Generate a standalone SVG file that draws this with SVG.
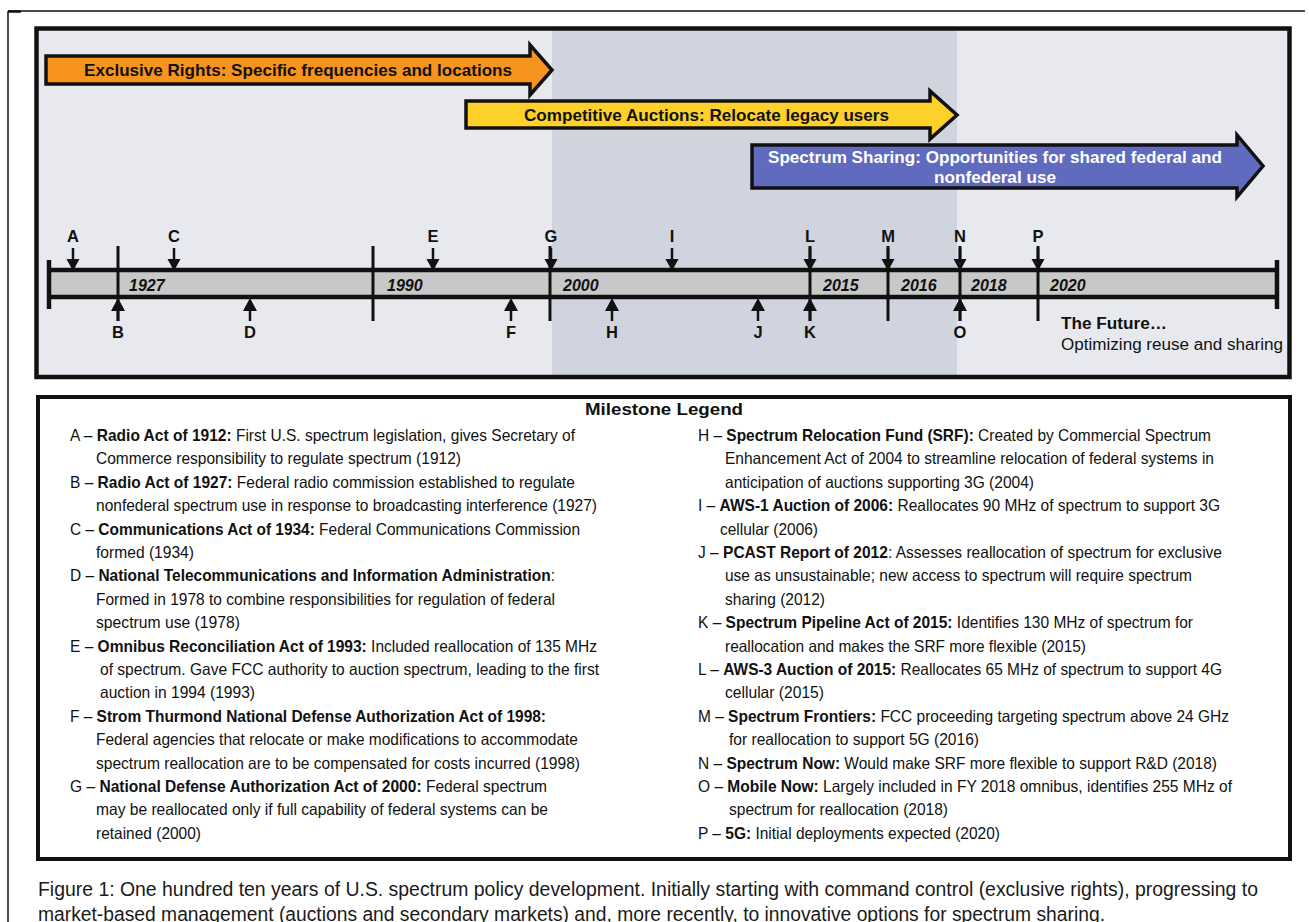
<svg xmlns="http://www.w3.org/2000/svg" width="1309" height="922" viewBox="0 0 1309 922">
<style>
text{font-family:"Liberation Sans",Arial,sans-serif;fill:#111}
.lg{font-size:16.5px}
.b{font-weight:bold}
.lab{font-size:16.5px;font-weight:bold;text-anchor:middle}
.yr{font-size:16px;font-weight:bold;font-style:italic}
.arrtxt{font-size:16.5px;font-weight:bold}
.div{stroke:#111;stroke-width:3}
.shaft{stroke:#111;stroke-width:2.5}
.head{fill:#111}
</style>
<rect width="1309" height="922" fill="#ffffff"/>
<g id="frame">
<line x1="8" y1="11" x2="1305" y2="11" stroke="#111" stroke-width="1.5"/>
<line x1="8" y1="11.5" x2="21" y2="11.5" stroke="#111" stroke-width="2.5"/>
<line x1="8" y1="11" x2="8" y2="922" stroke="#111" stroke-width="1.5"/>
</g>
<g id="timeline-panel">
<rect x="36.5" y="28.5" width="1253" height="348.5" fill="#e8e9ef"/>
<rect x="552" y="30" width="405" height="346" fill="#cfd4df"/>
<rect x="36.5" y="28.5" width="1253" height="348.5" fill="none" stroke="#111" stroke-width="4.5"/>
</g>
<g id="arrow-exclusive">
<polygon points="46,56 530,56 530,45 552,70 530,95 530,84 46,84" fill="#f7941e" stroke="#111" stroke-width="3.5" stroke-linejoin="miter"/>
<text class="arrtxt" x="84" y="76" textLength="428" lengthAdjust="spacingAndGlyphs">Exclusive Rights: Specific frequencies and locations</text>
</g>
<g id="arrow-auctions">
<polygon points="466,101 930,101 930,91 957,115 930,139 930,128 466,128" fill="#fed12a" stroke="#111" stroke-width="3.5"/>
<text class="arrtxt" x="524" y="121" textLength="365" lengthAdjust="spacingAndGlyphs">Competitive Auctions: Relocate legacy users</text>
</g>
<g id="arrow-sharing">
<polygon points="752,145 1237,145 1237,135 1263,166 1237,197 1237,188 752,188" fill="#606bbf" stroke="#111" stroke-width="3.5"/>
<text class="arrtxt" x="768" y="162.5" textLength="454" lengthAdjust="spacingAndGlyphs" style="fill:#ffffff">Spectrum Sharing: Opportunities for shared federal and</text>
<text class="arrtxt" x="934" y="182.5" textLength="122" lengthAdjust="spacingAndGlyphs" style="fill:#ffffff">nonfederal use</text>
</g>
<g id="timeline-bar">
<rect x="49" y="270" width="1228" height="27" fill="#c8c8c8"/>
<line x1="49" y1="270" x2="1277" y2="270" stroke="#111" stroke-width="4.5"/>
<line x1="49" y1="297" x2="1277" y2="297" stroke="#111" stroke-width="4.5"/>
<line x1="49" y1="260" x2="49" y2="309" stroke="#111" stroke-width="4.5"/>
<line x1="1277" y1="260" x2="1277" y2="309" stroke="#111" stroke-width="4.5"/>
<text class="yr" x="129" y="291">1927</text>
<text class="yr" x="387" y="291">1990</text>
<text class="yr" x="563" y="291">2000</text>
<text class="yr" x="823" y="291">2015</text>
<text class="yr" x="901" y="291">2016</text>
<text class="yr" x="971" y="291">2018</text>
<text class="yr" x="1050" y="291">2020</text>
</g>
<g id="connectors">
<line class="div" x1="118" y1="246" x2="118" y2="321"/>
<line class="div" x1="373" y1="246" x2="373" y2="321"/>
<line class="div" x1="550" y1="246" x2="550" y2="321"/>
<line class="div" x1="810" y1="246" x2="810" y2="321"/>
<line class="div" x1="888" y1="246" x2="888" y2="321"/>
<line class="div" x1="960" y1="246" x2="960" y2="321"/>
<line class="div" x1="1038" y1="246" x2="1038" y2="321"/>
</g>
<g id="milestones-top">
<g id="m-A"><line class="shaft" x1="73" y1="248" x2="73" y2="260"/><polygon class="head" points="66.5,259 79.5,259 73,271"/><text class="lab" x="73" y="242">A</text></g>
<g id="m-C"><line class="shaft" x1="174" y1="248" x2="174" y2="260"/><polygon class="head" points="167.5,259 180.5,259 174,271"/><text class="lab" x="174" y="242">C</text></g>
<g id="m-E"><line class="shaft" x1="433" y1="248" x2="433" y2="260"/><polygon class="head" points="426.5,259 439.5,259 433,271"/><text class="lab" x="433" y="242">E</text></g>
<g id="m-G"><line class="shaft" x1="551" y1="248" x2="551" y2="260"/><polygon class="head" points="544.5,259 557.5,259 551,271"/><text class="lab" x="551" y="242">G</text></g>
<g id="m-I"><line class="shaft" x1="672" y1="248" x2="672" y2="260"/><polygon class="head" points="665.5,259 678.5,259 672,271"/><text class="lab" x="672" y="242">I</text></g>
<g id="m-L"><line class="shaft" x1="810" y1="248" x2="810" y2="260"/><polygon class="head" points="803.5,259 816.5,259 810,271"/><text class="lab" x="810" y="242">L</text></g>
<g id="m-M"><line class="shaft" x1="888" y1="248" x2="888" y2="260"/><polygon class="head" points="881.5,259 894.5,259 888,271"/><text class="lab" x="888" y="242">M</text></g>
<g id="m-N"><line class="shaft" x1="960" y1="248" x2="960" y2="260"/><polygon class="head" points="953.5,259 966.5,259 960,271"/><text class="lab" x="960" y="242">N</text></g>
<g id="m-P"><line class="shaft" x1="1038" y1="248" x2="1038" y2="260"/><polygon class="head" points="1031.5,259 1044.5,259 1038,271"/><text class="lab" x="1038" y="242">P</text></g>
</g>
<g id="milestones-bottom">
<g id="m-B"><line class="shaft" x1="118" y1="309" x2="118" y2="321"/><polygon class="head" points="111,311 125,311 118,298"/><text class="lab" x="118" y="338">B</text></g>
<g id="m-D"><line class="shaft" x1="250" y1="309" x2="250" y2="321"/><polygon class="head" points="243,311 257,311 250,298"/><text class="lab" x="250" y="338">D</text></g>
<g id="m-F"><line class="shaft" x1="511" y1="309" x2="511" y2="321"/><polygon class="head" points="504,311 518,311 511,298"/><text class="lab" x="511" y="338">F</text></g>
<g id="m-H"><line class="shaft" x1="612" y1="309" x2="612" y2="321"/><polygon class="head" points="605,311 619,311 612,298"/><text class="lab" x="612" y="338">H</text></g>
<g id="m-J"><line class="shaft" x1="758" y1="309" x2="758" y2="321"/><polygon class="head" points="751,311 765,311 758,298"/><text class="lab" x="758" y="338">J</text></g>
<g id="m-K"><line class="shaft" x1="810" y1="309" x2="810" y2="321"/><polygon class="head" points="803,311 817,311 810,298"/><text class="lab" x="810" y="338">K</text></g>
<g id="m-O"><line class="shaft" x1="960" y1="309" x2="960" y2="321"/><polygon class="head" points="953,311 967,311 960,298"/><text class="lab" x="960" y="338">O</text></g>
</g>
<g id="future">
<text x="1061" y="329" class="b" style="font-size:16px" textLength="106" lengthAdjust="spacingAndGlyphs">The Future…</text>
<text x="1061" y="350" style="font-size:16px" textLength="222" lengthAdjust="spacingAndGlyphs">Optimizing reuse and sharing</text>
</g>
<g id="legend">
<rect x="38" y="397" width="1252" height="462" fill="#ffffff" stroke="#111" stroke-width="4"/>
<text x="664" y="415" class="b" style="font-size:17px;text-anchor:middle" textLength="158" lengthAdjust="spacingAndGlyphs">Milestone Legend</text>
<g class="lg">
<text x="70" y="441" textLength="505" lengthAdjust="spacingAndGlyphs">A – <tspan class="b">Radio Act of 1912:</tspan> First U.S. spectrum legislation, gives Secretary of</text>
<text x="96" y="464.4" textLength="365" lengthAdjust="spacingAndGlyphs">Commerce responsibility to regulate spectrum (1912)</text>
<text x="70" y="487.8" textLength="505" lengthAdjust="spacingAndGlyphs">B – <tspan class="b">Radio Act of 1927:</tspan> Federal radio commission established to regulate</text>
<text x="96" y="511.2" textLength="501" lengthAdjust="spacingAndGlyphs">nonfederal spectrum use in response to broadcasting interference (1927)</text>
<text x="70" y="534.6" textLength="510" lengthAdjust="spacingAndGlyphs">C – <tspan class="b">Communications Act of 1934:</tspan> Federal Communications Commission</text>
<text x="96" y="558" textLength="98" lengthAdjust="spacingAndGlyphs">formed (1934)</text>
<text x="70" y="581.4" textLength="485" lengthAdjust="spacingAndGlyphs">D – <tspan class="b">National Telecommunications and Information Administration</tspan>:</text>
<text x="96" y="604.8" textLength="459" lengthAdjust="spacingAndGlyphs">Formed in 1978 to combine responsibilities for regulation of federal</text>
<text x="96" y="628.2" textLength="144" lengthAdjust="spacingAndGlyphs">spectrum use (1978)</text>
<text x="70" y="651.6" textLength="527" lengthAdjust="spacingAndGlyphs">E – <tspan class="b">Omnibus Reconciliation Act of 1993:</tspan> Included reallocation of 135 MHz</text>
<text x="100" y="675" textLength="499" lengthAdjust="spacingAndGlyphs">of spectrum. Gave FCC authority to auction spectrum, leading to the first</text>
<text x="100" y="698.4" textLength="155" lengthAdjust="spacingAndGlyphs">auction in 1994 (1993)</text>
<text x="70" y="721.8" textLength="476" lengthAdjust="spacingAndGlyphs">F – <tspan class="b">Strom Thurmond National Defense Authorization Act of 1998:</tspan></text>
<text x="96" y="745.2" textLength="482" lengthAdjust="spacingAndGlyphs">Federal agencies that relocate or make modifications to accommodate</text>
<text x="96" y="768.6" textLength="484" lengthAdjust="spacingAndGlyphs">spectrum reallocation are to be compensated for costs incurred (1998)</text>
<text x="70" y="792" textLength="477" lengthAdjust="spacingAndGlyphs">G – <tspan class="b">National Defense Authorization Act of 2000:</tspan> Federal spectrum</text>
<text x="96" y="815.4" textLength="452" lengthAdjust="spacingAndGlyphs">may be reallocated only if full capability of federal systems can be</text>
<text x="96" y="838.8" textLength="105" lengthAdjust="spacingAndGlyphs">retained (2000)</text>

<text x="698" y="441" textLength="513" lengthAdjust="spacingAndGlyphs">H – <tspan class="b">Spectrum Relocation Fund (SRF):</tspan> Created by Commercial Spectrum</text>
<text x="725" y="464.4" textLength="489" lengthAdjust="spacingAndGlyphs">Enhancement Act of 2004 to streamline relocation of federal systems in</text>
<text x="725" y="487.8" textLength="309" lengthAdjust="spacingAndGlyphs">anticipation of auctions supporting 3G (2004)</text>
<text x="698" y="511.2" textLength="522" lengthAdjust="spacingAndGlyphs">I – <tspan class="b">AWS-1 Auction of 2006:</tspan> Reallocates 90 MHz of spectrum to support 3G</text>
<text x="720" y="534.6" textLength="98" lengthAdjust="spacingAndGlyphs">cellular (2006)</text>
<text x="698" y="558" textLength="524" lengthAdjust="spacingAndGlyphs">J – <tspan class="b">PCAST Report of 2012</tspan>: Assesses reallocation of spectrum for exclusive</text>
<text x="725" y="581.4" textLength="467" lengthAdjust="spacingAndGlyphs">use as unsustainable; new access to spectrum will require spectrum</text>
<text x="725" y="604.8" textLength="100" lengthAdjust="spacingAndGlyphs">sharing (2012)</text>
<text x="698" y="628.2" textLength="495" lengthAdjust="spacingAndGlyphs">K – <tspan class="b">Spectrum Pipeline Act of 2015:</tspan> Identifies 130 MHz of spectrum for</text>
<text x="725" y="651.6" textLength="361" lengthAdjust="spacingAndGlyphs">reallocation and makes the SRF more flexible (2015)</text>
<text x="698" y="675" textLength="524" lengthAdjust="spacingAndGlyphs">L – <tspan class="b">AWS-3 Auction of 2015:</tspan> Reallocates 65 MHz of spectrum to support 4G</text>
<text x="725" y="698.4" textLength="99" lengthAdjust="spacingAndGlyphs">cellular (2015)</text>
<text x="698" y="721.8" textLength="531" lengthAdjust="spacingAndGlyphs">M – <tspan class="b">Spectrum Frontiers:</tspan> FCC proceeding targeting spectrum above 24 GHz</text>
<text x="729" y="745.2" textLength="250" lengthAdjust="spacingAndGlyphs">for reallocation to support 5G (2016)</text>
<text x="698" y="768.6" textLength="519" lengthAdjust="spacingAndGlyphs">N – <tspan class="b">Spectrum Now:</tspan> Would make SRF more flexible to support R&amp;D (2018)</text>
<text x="698" y="792" textLength="534" lengthAdjust="spacingAndGlyphs">O – <tspan class="b">Mobile Now:</tspan> Largely included in FY 2018 omnibus, identifies 255 MHz of</text>
<text x="729" y="815.4" textLength="219" lengthAdjust="spacingAndGlyphs">spectrum for reallocation (2018)</text>
<text x="698" y="838.8" textLength="302" lengthAdjust="spacingAndGlyphs">P – <tspan class="b">5G:</tspan> Initial deployments expected (2020)</text>
</g>
</g>
<g id="caption">
<text x="38" y="896" style="font-size:20px;fill:#1a1a1a" textLength="1220" lengthAdjust="spacingAndGlyphs">Figure 1: One hundred ten years of U.S. spectrum policy development. Initially starting with command control (exclusive rights), progressing to</text>
<text x="38" y="921" style="font-size:20px;fill:#1a1a1a" textLength="1067" lengthAdjust="spacingAndGlyphs">market-based management (auctions and secondary markets) and, more recently, to innovative options for spectrum sharing.</text>
</g>
</svg>
